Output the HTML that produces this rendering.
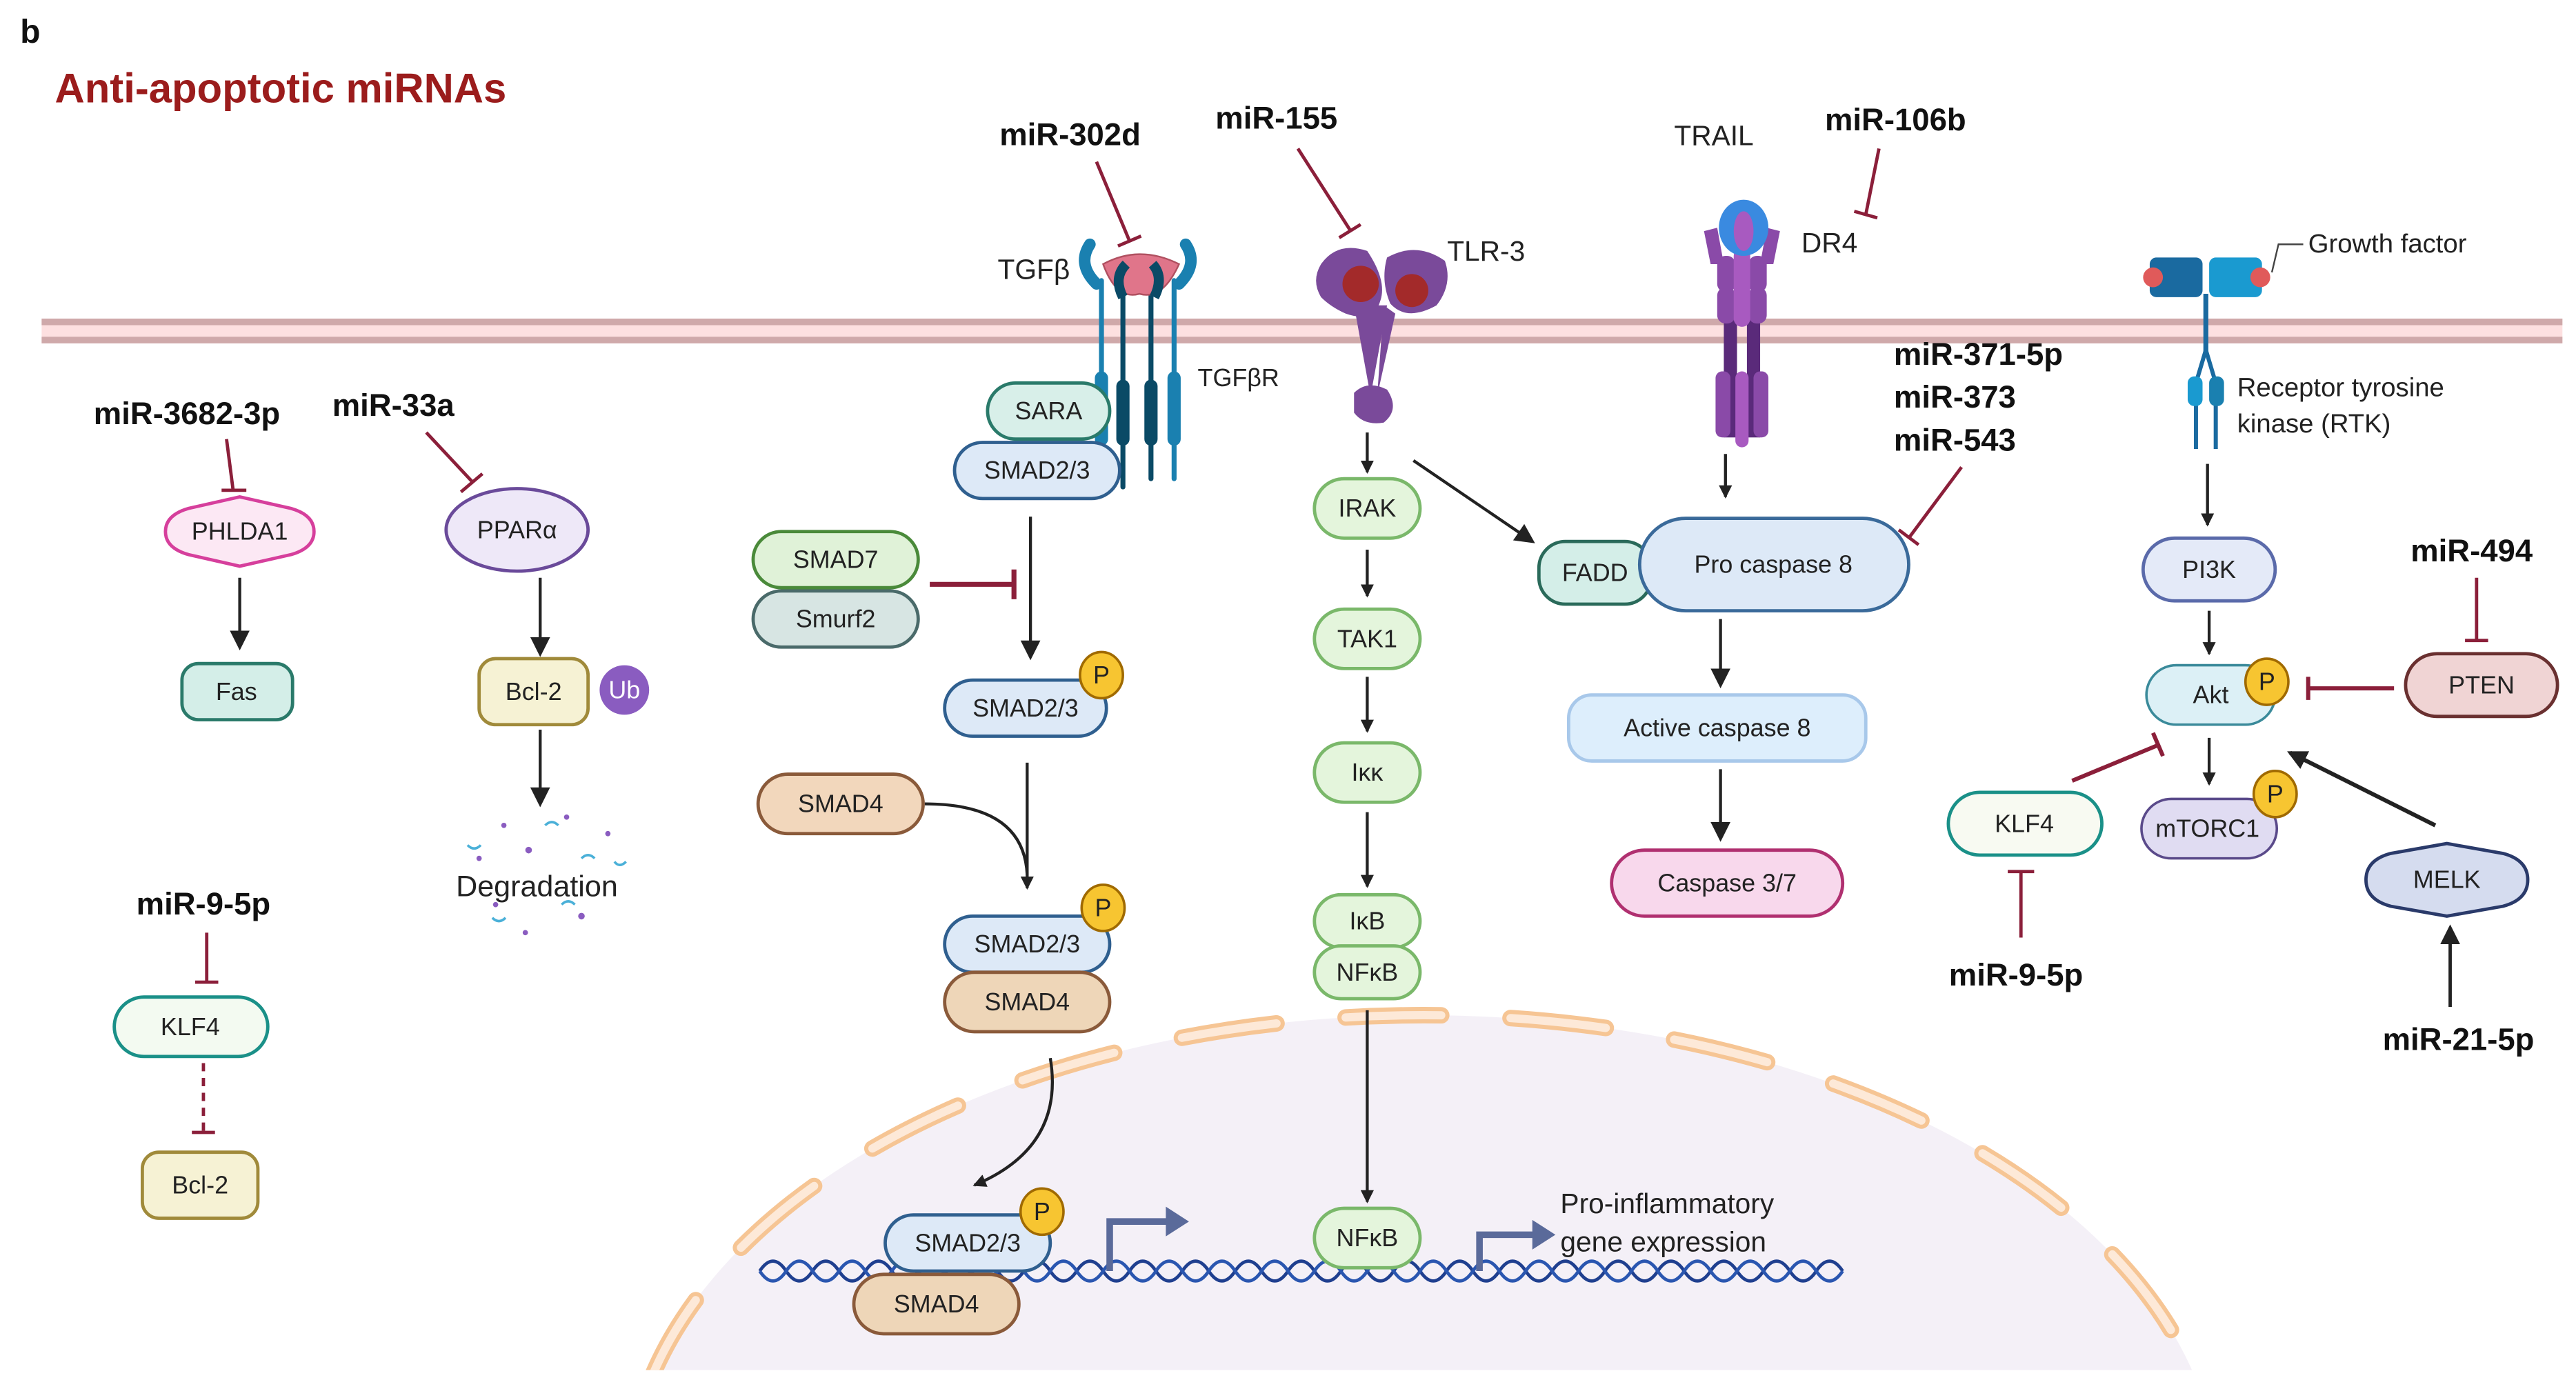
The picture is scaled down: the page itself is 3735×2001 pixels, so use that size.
<!DOCTYPE html>
<html><head><meta charset="utf-8"><style>
html,body{margin:0;padding:0;background:#fff;width:3735px;height:2001px;overflow:hidden;}
svg{display:block;}
text{font-family:"Liberation Sans",sans-serif;}
.m{font-weight:bold;font-size:19px;fill:#111;text-anchor:middle;}
.n{font-size:15px;fill:#222;text-anchor:middle;dominant-baseline:central;}
.a{stroke:#222;stroke-width:1.8;fill:none;}
.i{stroke:#8b1f3a;stroke-width:2;fill:none;}
</style></head><body>
<svg width="3735" height="2001" viewBox="0 0 1560 836" xmlns="http://www.w3.org/2000/svg">
<defs>
<marker id="ar" markerWidth="8" markerHeight="8" refX="7" refY="4" orient="auto" markerUnits="userSpaceOnUse" viewBox="0 0 8 8"><path d="M0,0 L8,4 L0,8 Z" fill="#222"/></marker>
<marker id="ar2" markerWidth="12" markerHeight="12" refX="10" refY="6" orient="auto" markerUnits="userSpaceOnUse" viewBox="0 0 12 12"><path d="M0,0 L12,6 L0,12 Z" fill="#222"/></marker>
<clipPath id="cl"><rect x="0" y="0" width="1560" height="830"/></clipPath>
</defs>
<rect width="1560" height="836" fill="#fff"/>
<!-- nucleus -->
<g clip-path="url(#cl)">
<ellipse cx="862" cy="905" rx="482" ry="290" fill="#f4f0f7"/>
<ellipse cx="862" cy="905" rx="482" ry="290" fill="none" stroke="#f6c594" stroke-width="10" stroke-dasharray="58 42" stroke-linecap="round"/>
<ellipse cx="862" cy="905" rx="482" ry="290" fill="none" stroke="#fde9d8" stroke-width="5" stroke-dasharray="58 42" stroke-linecap="round"/>
</g>
<!-- DNA -->
<path d="M460,770 q8,-12 16,0 t16,0 t16,0 t16,0 t16,0 t16,0 t16,0 t16,0 t16,0 t16,0 t16,0 t16,0 t16,0 t16,0 t16,0 t16,0 t16,0 t16,0 t16,0 t16,0 t16,0 t16,0 t16,0 t16,0 t16,0 t16,0 t16,0 t16,0 t16,0 t16,0 t16,0 t16,0 t16,0 t16,0 t16,0 t16,0 t16,0 t16,0 t16,0 t16,0 t16,0" fill="none" stroke="#1f3f8f" stroke-width="2"/>
<path d="M460,770 q8,12 16,0 t16,0 t16,0 t16,0 t16,0 t16,0 t16,0 t16,0 t16,0 t16,0 t16,0 t16,0 t16,0 t16,0 t16,0 t16,0 t16,0 t16,0 t16,0 t16,0 t16,0 t16,0 t16,0 t16,0 t16,0 t16,0 t16,0 t16,0 t16,0 t16,0 t16,0 t16,0 t16,0 t16,0 t16,0 t16,0 t16,0 t16,0 t16,0 t16,0 t16,0" fill="none" stroke="#2a56b0" stroke-width="2"/>
<!-- membrane -->
<rect x="25" y="193" width="1527" height="15" fill="#fde0e0"/>
<rect x="25" y="193" width="1527" height="4" fill="#cfa9aa"/>
<rect x="25" y="204" width="1527" height="4" fill="#cfa9aa"/>

<text x="12" y="26" font-size="20" font-weight="bold" fill="#111">b</text>
<text x="33" y="62" font-size="25" font-weight="bold" fill="#9b1c1c">Anti-apoptotic miRNAs</text>

<!-- left column -->
<text class="m" x="113" y="257">miR-3682-3p</text>
<line class="i" x1="137" y1="266" x2="141" y2="297"/><line class="i" x1="134" y1="297" x2="149" y2="297"/>
<path d="M100,322 Q100,312 114,308 L145,301 L176,308 Q190,312 190,322 Q190,332 176,336 L145,343 L114,336 Q100,332 100,322 Z" fill="#fce8f4" stroke="#d63f9c" stroke-width="2"/>
<text class="n" x="145" y="322">PHLDA1</text>
<line class="a" x1="145" y1="350" x2="145" y2="392" marker-end="url(#ar2)"/>
<rect x="110" y="402" width="67" height="34" rx="10" fill="#d4eee8" stroke="#2a7a6a" stroke-width="2"/>
<text class="n" x="143" y="419">Fas</text>

<text class="m" x="238" y="252">miR-33a</text>
<line class="i" x1="258" y1="262" x2="286" y2="292"/><line class="i" x1="279" y1="298" x2="292" y2="287"/>
<ellipse cx="313" cy="321" rx="43" ry="25" fill="#eee8f8" stroke="#6a4a9a" stroke-width="2"/>
<text class="n" x="313" y="321">PPARα</text>
<line class="a" x1="327" y1="350" x2="327" y2="396" marker-end="url(#ar2)"/>
<rect x="290" y="399" width="66" height="40" rx="10" fill="#f6f2d4" stroke="#a08a3a" stroke-width="2"/>
<text class="n" x="323" y="419">Bcl-2</text>
<circle cx="378" cy="418" r="15" fill="#8a5cc0"/>
<text class="n" x="378" y="418" font-size="14" style="fill:#fff">Ub</text>
<line class="a" x1="327" y1="442" x2="327" y2="487" marker-end="url(#ar2)"/>
<g fill="#8a5cc0"><circle cx="305" cy="500" r="1.6"/><circle cx="343" cy="495" r="1.6"/><circle cx="320" cy="515" r="2"/><circle cx="368" cy="505" r="1.6"/><circle cx="300" cy="548" r="1.6"/><circle cx="352" cy="555" r="2"/><circle cx="318" cy="565" r="1.6"/><circle cx="290" cy="520" r="1.6"/></g>
<g stroke="#4ab0d8" stroke-width="1.5" fill="none"><path d="M330,500 q4,-4 8,0"/><path d="M283,512 q4,4 8,0"/><path d="M352,520 q4,-4 8,0"/><path d="M298,556 q4,4 8,0"/><path d="M340,548 q4,-4 8,0"/><path d="M372,522 q3,4 7,0"/></g>
<text x="325" y="543" font-size="18" fill="#222" text-anchor="middle">Degradation</text>

<text class="m" x="123" y="554">miR-9-5p</text>
<line class="i" x1="125" y1="565" x2="125" y2="595"/><line class="i" x1="118" y1="595" x2="132" y2="595"/>
<rect x="69" y="604" width="93" height="36" rx="18" fill="#f3faf1" stroke="#1a9088" stroke-width="2"/>
<text class="n" x="115" y="622">KLF4</text>
<line class="i" x1="123" y1="644" x2="123" y2="686" stroke-dasharray="5 4"/><line class="i" x1="116" y1="686" x2="130" y2="686"/>
<rect x="86" y="698" width="70" height="40" rx="10" fill="#f6f2d4" stroke="#a08a3a" stroke-width="2"/>
<text class="n" x="121" y="718">Bcl-2</text>

<!-- TGFb -->
<text class="m" x="648" y="88">miR-302d</text>
<line class="i" x1="664" y1="98" x2="684" y2="146"/><line class="i" x1="677" y1="149" x2="691" y2="143"/>
<text x="626" y="169" font-size="17" fill="#222" text-anchor="middle">TGFβ</text>
<g stroke-linecap="round">
<line x1="667" y1="170" x2="667" y2="290" stroke="#1a80b0" stroke-width="3"/>
<line x1="711" y1="170" x2="711" y2="290" stroke="#1a80b0" stroke-width="3"/>
<line x1="680" y1="175" x2="680" y2="295" stroke="#0a4a66" stroke-width="3"/>
<line x1="697" y1="175" x2="697" y2="290" stroke="#0a4a66" stroke-width="3"/>
<rect x="663" y="225" width="8" height="45" rx="4" fill="#1a80b0"/>
<rect x="707" y="225" width="8" height="45" rx="4" fill="#1a80b0"/>
<rect x="676" y="230" width="8" height="40" rx="4" fill="#0a4a66"/>
<rect x="693" y="230" width="8" height="40" rx="4" fill="#0a4a66"/>
<path d="M664,172 Q652,160 660,148" stroke="#1a80b0" stroke-width="7" fill="none"/>
<path d="M714,172 Q726,160 718,148" stroke="#1a80b0" stroke-width="7" fill="none"/>
</g>
<path d="M668,160 Q690,148 714,160 Q704,182 690,178 Q676,182 668,160 Z" fill="#e0758a" stroke="#b05060"/>
<path d="M680,180 Q674,168 682,160" stroke="#0a4a66" stroke-width="6" fill="none"/>
<path d="M699,180 Q705,168 698,160" stroke="#0a4a66" stroke-width="6" fill="none"/>
<text x="750" y="234" font-size="15" fill="#222" text-anchor="middle">TGFβR</text>
<rect x="598" y="232" width="74" height="34" rx="17" fill="#d8efe9" stroke="#2a7a6a" stroke-width="2"/>
<text class="n" x="635" y="249">SARA</text>
<rect x="578" y="268" width="100" height="34" rx="17" fill="#dde9f7" stroke="#2f5f8f" stroke-width="2"/>
<text class="n" x="628" y="285">SMAD2/3</text>
<line class="a" x1="624" y1="313" x2="624" y2="398" marker-end="url(#ar2)"/>
<rect x="456" y="322" width="100" height="34" rx="17" fill="#e0f2d8" stroke="#4a8a3a" stroke-width="2"/>
<text class="n" x="506" y="339">SMAD7</text>
<rect x="456" y="358" width="100" height="34" rx="17" fill="#d7e5e3" stroke="#4a6a6a" stroke-width="2"/>
<text class="n" x="506" y="375">Smurf2</text>
<line x1="563" y1="354" x2="614" y2="354" stroke="#8b1f3a" stroke-width="3"/><line x1="614" y1="345" x2="614" y2="363" stroke="#8b1f3a" stroke-width="3"/>
<rect x="572" y="412" width="98" height="34" rx="17" fill="#dde9f7" stroke="#2f5f8f" stroke-width="2"/>
<text class="n" x="621" y="429">SMAD2/3</text>
<ellipse cx="667" cy="409" rx="13" ry="14" fill="#f7c531" stroke="#a06a00" stroke-width="1.5"/><text class="n" x="667" y="409">P</text>
<rect x="459" y="469" width="100" height="36" rx="18" fill="#f2d7bc" stroke="#8a5a3a" stroke-width="2"/>
<text class="n" x="509" y="487">SMAD4</text>
<line class="a" x1="622" y1="462" x2="622" y2="538" marker-end="url(#ar)"/>
<path class="a" d="M560,487 Q620,487 622,530"/>
<rect x="572" y="555" width="100" height="34" rx="17" fill="#dde9f7" stroke="#2f5f8f" stroke-width="2"/>
<text class="n" x="622" y="572">SMAD2/3</text>
<ellipse cx="668" cy="550" rx="13" ry="14" fill="#f7c531" stroke="#a06a00" stroke-width="1.5"/><text class="n" x="668" y="550">P</text>
<rect x="572" y="589" width="100" height="36" rx="18" fill="#eed6b8" stroke="#8a5a3a" stroke-width="2"/>
<text class="n" x="622" y="607">SMAD4</text>
<path class="a" d="M636,641 Q645,695 590,718" marker-end="url(#ar)"/>
<rect x="536" y="736" width="100" height="34" rx="17" fill="#dde9f7" stroke="#2f5f8f" stroke-width="2"/>
<text class="n" x="586" y="753">SMAD2/3</text>
<ellipse cx="631" cy="734" rx="13" ry="14" fill="#f7c531" stroke="#a06a00" stroke-width="1.5"/><text class="n" x="631" y="734">P</text>
<rect x="517" y="772" width="100" height="36" rx="18" fill="#eed6b8" stroke="#8a5a3a" stroke-width="2"/>
<text class="n" x="567" y="790">SMAD4</text>
<path d="M672,770 L672,740 L708,740" fill="none" stroke="#5a6a9a" stroke-width="4"/><path d="M706,731 L720,740 L706,749 Z" fill="#5a6a9a"/>

<!-- TLR3 -->
<text class="m" x="773" y="78">miR-155</text>
<line class="i" x1="786" y1="90" x2="818" y2="140"/><line class="i" x1="811" y1="144" x2="824" y2="136"/>
<g fill="#7a4a9a">
<path d="M800,160 Q810,146 828,152 Q840,170 836,182 Q832,196 815,190 Q806,186 800,180 Q794,170 800,160 Z"/>
<path d="M840,156 Q858,146 875,158 Q880,172 870,185 Q852,195 842,184 Q836,170 840,156 Z"/>
<path d="M820,185 L830,240 L840,185 Z"/><path d="M838,185 L834,240 L845,190 Z"/>
<path d="M820,238 Q828,230 840,236 Q848,248 838,256 Q826,258 820,250 Z"/>
</g>
<circle cx="824" cy="172" r="11" fill="#a32a2a"/><circle cx="855" cy="176" r="10" fill="#a32a2a"/>
<text x="900" y="158" font-size="17" fill="#222" text-anchor="middle">TLR-3</text>
<line class="a" x1="828" y1="262" x2="828" y2="286" marker-end="url(#ar)"/>
<line class="a" x1="856" y1="279" x2="928" y2="328" marker-end="url(#ar2)"/>
<rect x="796" y="290" width="64" height="36" rx="18" fill="#e4f5dc" stroke="#7ab86a" stroke-width="2"/><text class="n" x="828" y="308">IRAK</text>
<line class="a" x1="828" y1="333" x2="828" y2="361" marker-end="url(#ar)"/>
<rect x="796" y="369" width="64" height="36" rx="18" fill="#e4f5dc" stroke="#7ab86a" stroke-width="2"/><text class="n" x="828" y="387">TAK1</text>
<line class="a" x1="828" y1="410" x2="828" y2="443" marker-end="url(#ar)"/>
<rect x="796" y="450" width="64" height="36" rx="18" fill="#e4f5dc" stroke="#7ab86a" stroke-width="2"/><text class="n" x="828" y="468">Iκκ</text>
<line class="a" x1="828" y1="492" x2="828" y2="537" marker-end="url(#ar)"/>
<rect x="796" y="542" width="64" height="32" rx="16" fill="#e4f5dc" stroke="#7ab86a" stroke-width="2"/><text class="n" x="828" y="558">IκB</text>
<rect x="796" y="573" width="64" height="32" rx="16" fill="#e4f5dc" stroke="#7ab86a" stroke-width="2"/><text class="n" x="828" y="589">NFκB</text>
<line class="a" x1="828" y1="612" x2="828" y2="728" marker-end="url(#ar)"/>
<rect x="796" y="732" width="64" height="36" rx="18" fill="#e4f5dc" stroke="#7ab86a" stroke-width="2"/><text class="n" x="828" y="750">NFκB</text>
<path d="M896,770 L896,748 L930,748" fill="none" stroke="#5a6a9a" stroke-width="4"/><path d="M928,739 L942,748 L928,757 Z" fill="#5a6a9a"/>
<text x="945" y="735" font-size="17" fill="#222">Pro-inflammatory</text>
<text x="945" y="758" font-size="17" fill="#222">gene expression</text>

<!-- DR4 -->
<text x="1038" y="88" font-size="17" fill="#222" text-anchor="middle">TRAIL</text>
<text class="m" x="1148" y="79">miR-106b</text>
<line class="i" x1="1138" y1="90" x2="1130" y2="130"/><line class="i" x1="1123" y1="128" x2="1137" y2="132"/>
<g fill="#8a4aa8">
<rect x="1044" y="185" width="8" height="80" fill="#5a2a7a"/><rect x="1058" y="185" width="8" height="80" fill="#5a2a7a"/>
<rect x="1039" y="225" width="9" height="40" rx="4"/><rect x="1062" y="225" width="9" height="40" rx="4"/>
<rect x="1051" y="225" width="8" height="46" rx="4" fill="#a85ac0"/>
<rect x="1040" y="155" width="11" height="22" rx="5"/><rect x="1059" y="155" width="11" height="22" rx="5"/>
<rect x="1040" y="174" width="11" height="22" rx="5"/><rect x="1059" y="174" width="11" height="22" rx="5"/>
<rect x="1050" y="150" width="10" height="48" rx="5" fill="#a85ac0"/>
<path d="M1032,140 L1040,138 L1044,160 L1036,160 Z"/><path d="M1078,140 L1070,138 L1066,160 L1074,160 Z"/>
</g>
<ellipse cx="1056" cy="138" rx="15" ry="17" fill="#3a8ae0"/>
<ellipse cx="1056" cy="140" rx="6" ry="12" fill="#a85ac0"/>
<text x="1108" y="153" font-size="17" fill="#222" text-anchor="middle">DR4</text>
<line class="a" x1="1045" y1="275" x2="1045" y2="301" marker-end="url(#ar)"/>
<rect x="932" y="328" width="68" height="38" rx="16" fill="#d4eee8" stroke="#2a6a5a" stroke-width="2"/><text class="n" x="966" y="347" font-size="17">FADD</text>
<rect x="993" y="314" width="163" height="56" rx="28" fill="#dde9f7" stroke="#3a6a9a" stroke-width="2"/><text class="n" x="1074" y="342" font-size="17">Pro caspase 8</text>
<text class="m" x="1147" y="221" style="text-anchor:start">miR-371-5p</text>
<text class="m" x="1147" y="247" style="text-anchor:start">miR-373</text>
<text class="m" x="1147" y="273" style="text-anchor:start">miR-543</text>
<line class="i" x1="1188" y1="283" x2="1156" y2="326"/><line class="i" x1="1150" y1="321" x2="1162" y2="330"/>
<line class="a" x1="1042" y1="375" x2="1042" y2="415" marker-end="url(#ar2)"/>
<rect x="950" y="421" width="180" height="40" rx="14" fill="#ddeefc" stroke="#a8c8ea" stroke-width="2"/><text class="n" x="1040" y="441" font-size="17">Active caspase 8</text>
<line class="a" x1="1042" y1="466" x2="1042" y2="508" marker-end="url(#ar2)"/>
<rect x="976" y="515" width="140" height="40" rx="20" fill="#f8d8ec" stroke="#b03070" stroke-width="2"/><text class="n" x="1046" y="535" font-size="17">Caspase 3/7</text>

<!-- RTK -->
<rect x="1302" y="156" width="32" height="24" rx="4" fill="#1a6aa0"/>
<rect x="1338" y="156" width="32" height="24" rx="4" fill="#1a9ad0"/>
<circle cx="1304" cy="168" r="6" fill="#e05a5a"/><circle cx="1369" cy="168" r="6" fill="#e05a5a"/>
<line x1="1336" y1="178" x2="1336" y2="215" stroke="#1a6aa0" stroke-width="3"/>
<path d="M1336,212 L1330,232 L1330,272 M1336,212 L1342,232 L1342,272" stroke="#1a6aa0" stroke-width="2.5" fill="none"/>
<rect x="1325" y="228" width="9" height="18" rx="4" fill="#1a9ad0"/><rect x="1338" y="228" width="9" height="18" rx="4" fill="#1a80b0"/>
<path d="M1376,165 L1380,148 L1395,148" stroke="#444" fill="none"/>
<text x="1398" y="153" font-size="16" fill="#222">Growth factor</text>
<text x="1355" y="240" font-size="16" fill="#222">Receptor tyrosine</text>
<text x="1355" y="262" font-size="16" fill="#222">kinase (RTK)</text>
<line class="a" x1="1337" y1="281" x2="1337" y2="318" marker-end="url(#ar)"/>
<rect x="1298" y="326" width="80" height="38" rx="19" fill="#e4eaf8" stroke="#5a6aaa" stroke-width="2"/><text class="n" x="1338" y="345">PI3K</text>
<line class="a" x1="1338" y1="370" x2="1338" y2="396" marker-end="url(#ar)"/>
<rect x="1300" y="403" width="78" height="36" rx="18" fill="#dcf0f6" stroke="#3a8a9a" stroke-width="1.5"/><text class="n" x="1339" y="421">Akt</text>
<ellipse cx="1373" cy="413" rx="13" ry="14" fill="#f7c531" stroke="#a06a00" stroke-width="1.5"/><text class="n" x="1373" y="413">P</text>
<text class="m" x="1497" y="340">miR-494</text>
<line class="i" x1="1500" y1="350" x2="1500" y2="388"/><line class="i" x1="1493" y1="388" x2="1507" y2="388"/>
<rect x="1457" y="396" width="92" height="38" rx="19" fill="#f0d4d4" stroke="#6a3030" stroke-width="2"/><text class="n" x="1503" y="415">PTEN</text>
<line x1="1450" y1="417" x2="1398" y2="417" stroke="#8b1f3a" stroke-width="2.5"/><line x1="1398" y1="410" x2="1398" y2="424" stroke="#8b1f3a" stroke-width="2.5"/>
<line class="a" x1="1338" y1="447" x2="1338" y2="475" marker-end="url(#ar)"/>
<rect x="1297" y="484" width="82" height="36" rx="18" fill="#e0dcf2" stroke="#5a4a8a" stroke-width="1.5"/><text class="n" x="1337" y="502" font-size="14">mTORC1</text>
<ellipse cx="1378" cy="481" rx="13" ry="14" fill="#f7c531" stroke="#a06a00" stroke-width="1.5"/><text class="n" x="1378" y="481">P</text>
<rect x="1180" y="480" width="93" height="38" rx="19" fill="#f8faf2" stroke="#1a9088" stroke-width="2"/><text class="n" x="1226" y="499">KLF4</text>
<line x1="1255" y1="473" x2="1308" y2="451" stroke="#8b1f3a" stroke-width="2.5"/><line x1="1304" y1="444" x2="1310" y2="458" stroke="#8b1f3a" stroke-width="2.5"/>
<line class="i" x1="1224" y1="568" x2="1224" y2="528" stroke-width="2.5"/><line class="i" x1="1216" y1="528" x2="1232" y2="528" stroke-width="2.5"/>
<text class="m" x="1221" y="597">miR-9-5p</text>
<path d="M1433,533 Q1433,521 1448,517 L1482,511 L1516,517 Q1531,521 1531,533 Q1531,545 1516,549 L1482,555 L1448,549 Q1433,545 1433,533 Z" fill="#d5dcef" stroke="#2a3a6a" stroke-width="2"/>
<text class="n" x="1482" y="533" font-size="17">MELK</text>
<line x1="1475" y1="500" x2="1387" y2="456" stroke="#222" stroke-width="2.5" marker-end="url(#ar2)"/>
<line x1="1484" y1="610" x2="1484" y2="562" stroke="#222" stroke-width="2" marker-end="url(#ar2)"/>
<text class="m" x="1489" y="636">miR-21-5p</text>
</svg>
</body></html>
